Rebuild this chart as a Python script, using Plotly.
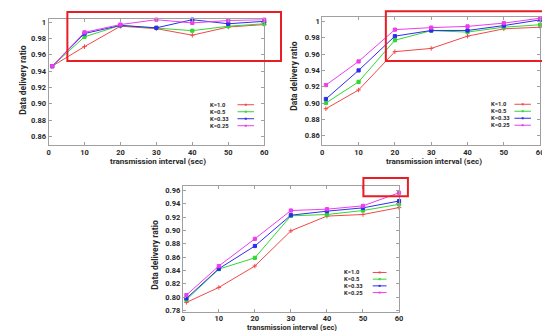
import plotly.graph_objects as go

W, H = 550, 331

# ---- data ----
x_vals = [1, 10, 20, 30, 40, 50, 60]
series_names = ["K=1.0", "K=0.5", "K=0.33", "K=0.25"]

p1_k10 = [0.946, 0.970, 0.995, 0.992, 0.984, 0.994, 0.997]
p1_k05 = [0.946, 0.982, 0.996, 0.993, 0.9895, 0.995, 0.998]
p1_k033 = [0.946, 0.986, 0.996, 0.993, 1.003, 0.998, 1.001]
p1_k025 = [0.946, 0.9875, 0.997, 1.003, 0.999, 1.002, 1.003]

p2_k10 = [0.893, 0.916, 0.963, 0.967, 0.982, 0.991, 0.993]
p2_k05 = [0.900, 0.926, 0.977, 0.9888, 0.987, 0.993, 0.996]
p2_k033 = [0.905, 0.940, 0.982, 0.989, 0.989, 0.995, 1.002]
p2_k025 = [0.922, 0.951, 0.990, 0.9925, 0.994, 0.998, 1.004]

p3_k10 = [0.792, 0.8145, 0.8466, 0.8995, 0.9216, 0.924, 0.9344]
p3_k05 = [0.796, 0.842, 0.8589, 0.922, 0.924, 0.930, 0.9393]
p3_k033 = [0.798, 0.8426, 0.8767, 0.923, 0.929, 0.934, 0.9442]
p3_k025 = [0.803, 0.8466, 0.8875, 0.930, 0.932, 0.937, 0.9566]

x_ticks = [0, 10, 20, 30, 40, 50, 60]
y_ticks_12 = [0.86, 0.88, 0.90, 0.92, 0.94, 0.96, 0.98, 1.0]
y_text_12 = ["0.86", "0.88", "0.90", "0.92", "0.94", "0.96", "0.98", "1"]
y_ticks_3 = [0.78, 0.80, 0.82, 0.84, 0.86, 0.88, 0.90, 0.92, 0.94, 0.96]
y_text_3 = ["0.78", "0.80", "0.82", "0.84", "0.86", "0.88", "0.90", "0.92", "0.94", "0.96"]

x_title = "transmission interval (sec)"
y_title = "Data delivery ratio"

# ---- styles ----
colors = ["rgb(240,72,72)", "rgb(50,215,50)", "rgb(45,45,240)", "rgb(238,60,238)"]
symbols = ["cross-thin", "square", "square", "square"]
FONT = "Roboto"
TXT = "rgb(40,40,40)"
FRAME = "rgb(160,160,160)"


def px(x):
    return x / W


def py(y):
    return 1 - y / H


fig = go.Figure()

panels = [
    dict(data=[p1_k10, p1_k05, p1_k033, p1_k025], xa="x", ya="y"),
    dict(data=[p2_k10, p2_k05, p2_k033, p2_k025], xa="x2", ya="y2"),
    dict(data=[p3_k10, p3_k05, p3_k033, p3_k025], xa="x3", ya="y3"),
]

for p in panels:
    for i, ys in enumerate(p["data"]):
        fig.add_trace(go.Scatter(
            x=x_vals, y=ys, mode="lines+markers", name=series_names[i],
            xaxis=p["xa"], yaxis=p["ya"], showlegend=False,
            line=dict(color=colors[i], width=1),
            marker=dict(symbol=symbols[i], size=3.2, color=colors[i],
                        line=dict(color=colors[i], width=1)),
            cliponaxis=False,
        ))

axis_common = dict(
    showgrid=False, zeroline=False, showline=True, linecolor=FRAME, linewidth=1,
    mirror="ticks", ticks="inside", ticklen=3, tickcolor=FRAME,
    tickfont=dict(family=FONT, size=7.5, color=TXT, weight="bold"),
)

layout_axes = dict(
    xaxis=dict(domain=[px(39), px(257)], range=[0, 60], tickvals=x_ticks, anchor="y", **axis_common),
    yaxis=dict(domain=[py(137), py(9.5)], range=[0.8495, 1.0034], tickvals=y_ticks_12,
               ticktext=y_text_12, anchor="x", **axis_common),
    xaxis2=dict(domain=[px(315.7), px(536)], range=[0, 60], tickvals=x_ticks, anchor="y2", **axis_common),
    yaxis2=dict(domain=[py(136.7), py(6.7)], range=[0.849, 1.006], tickvals=y_ticks_12,
                ticktext=y_text_12, anchor="x2", **axis_common),
    xaxis3=dict(domain=[px(174.7), px(393.3)], range=[0, 60], tickvals=x_ticks, anchor="y3",
                ticklabelstandoff=-1, **axis_common),
    yaxis3=dict(domain=[py(306.7), py(178.3)], range=[0.7775, 0.9674], tickvals=y_ticks_3,
                ticktext=y_text_3, anchor="x3", **axis_common),
)

annotations = []
shapes = []

# axis titles
for (cx, cy, fs) in [(149.5, 154, 8), (428.7, 154.3, 8), (285, 322, 7.5)]:
    annotations.append(dict(x=px(cx), y=py(cy), xref="paper", yref="paper", text=x_title,
                            showarrow=False, xanchor="center", yanchor="middle", borderpad=0,
                            font=dict(family=FONT, size=fs, color=TXT, weight="bold")))
for (cx, cy) in [(13, 71), (287, 67), (147, 248)]:
    annotations.append(dict(x=px(cx), y=py(cy), xref="paper", yref="paper", text=y_title,
                            showarrow=False, textangle=-90, xanchor="center", yanchor="middle",
                            font=dict(family=FONT, size=8.5, color=TXT, weight="bold")))

# custom legends (text left, line sample right)
legend_specs = [
    dict(tx=201.7, l0=230, l1=246.7, rows=[96.2, 103.3, 110.4, 117.5]),
    dict(tx=485, l0=510, l1=526.7, rows=[95.7, 102.8, 109.9, 117.0]),
    dict(tx=336.7, l0=366.7, l1=380.7, rows=[266.5, 273.3, 280.1, 286.9]),
]
for spec in legend_specs:
    for i, ry in enumerate(spec["rows"]):
        annotations.append(dict(x=px(spec["tx"]), y=py(ry), xref="paper", yref="paper",
                                text=series_names[i], showarrow=False, xanchor="left",
                                yanchor="middle", borderpad=0,
                                font=dict(family=FONT, size=5.8, color=TXT, weight="bold")))
        shapes.append(dict(type="line", xref="paper", yref="paper",
                           x0=px(spec["l0"]), x1=px(spec["l1"]), y0=py(ry), y1=py(ry),
                           line=dict(color=colors[i], width=1)))
        mx = (spec["l0"] + spec["l1"]) / 2
        shapes.append(dict(type="rect", xref="paper", yref="paper",
                           x0=px(mx - 1), x1=px(mx + 1), y0=py(ry - 1), y1=py(ry + 1),
                           line=dict(width=0), fillcolor=colors[i]))

# red highlight rectangles
for (x0, y0, x1, y1) in [(58, 2, 274, 51.7), (380, 1.2, 543.3, 51.7), (357.3, 170.7, 402.3, 189)]:
    shapes.append(dict(type="rect", xref="paper", yref="paper",
                       x0=px(x0), x1=px(x1), y0=py(y1), y1=py(y0),
                       line=dict(color="rgb(232,30,36)", width=2), fillcolor="rgba(0,0,0,0)"))

fig.update_layout(
    width=W, height=H, margin=dict(l=0, r=0, t=0, b=0),
    paper_bgcolor="white", plot_bgcolor="white",
    showlegend=False, annotations=annotations, shapes=shapes,
    **layout_axes,
)

fig.write_html("out.html")
